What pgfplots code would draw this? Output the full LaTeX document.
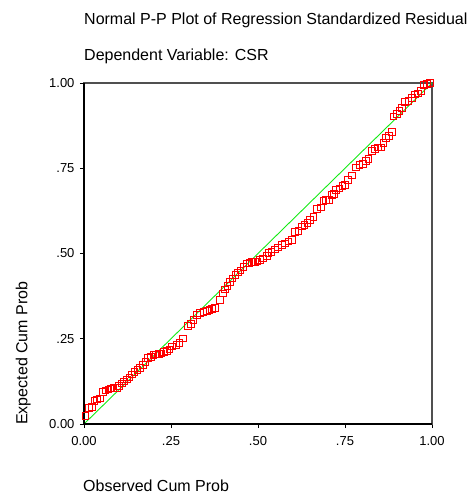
\documentclass[border=0pt]{standalone}
\usepackage{fontspec}
\setmainfont{Liberation Sans}
\usepackage{pgfplots}
\pgfplotsset{compat=1.18}

\definecolor{ppred}{RGB}{255,0,0}
\definecolor{ppgreen}{RGB}{20,235,20}
\definecolor{framegray}{RGB}{80,80,80}

\begin{document}
\begin{tikzpicture}[x=1pt,y=1pt,font=\fontsize{13}{15}\selectfont]
\useasboundingbox (-84,-72) rectangle (387,424);
\begin{axis}[
    at={(0,0)}, anchor=south west,
    scale only axis=true,
    width=348pt, height=341pt,
    xmin=0, xmax=1, ymin=0, ymax=1,
    xtick={0,0.25,0.5,0.75,1},
    ytick={0,0.25,0.5,0.75,1},
    xticklabels={0.00,.25,.50,.75,1.00},
    yticklabels={0.00,.25,.50,.75,1.00},
    xtick pos=lower, ytick pos=left,
    tick align=outside,
    major tick length=4pt,
    tick style={black, line width=0.8pt},
    axis line style={framegray, line width=1.2pt},
    ticklabel style={font=\fontsize{13}{15}\selectfont},
    xticklabel style={yshift=-5pt},
    yticklabel style={xshift=-2pt},
    clip=false,
]
\addplot[ppgreen, line width=0.9pt] coordinates {(0,0) (1,1)};

\addplot[only marks, mark=square, mark size=3.3pt,
         mark options={ppred, line width=0.8pt}] coordinates {
(0.004,0.024) (0.014,0.047) (0.022,0.051) (0.030,0.067) (0.037,0.072)
(0.045,0.075) (0.054,0.095) (0.062,0.099) (0.070,0.102) (0.078,0.104)
(0.085,0.105) (0.094,0.106) (0.101,0.112) (0.109,0.119) (0.115,0.125)
(0.123,0.131) (0.130,0.137) (0.138,0.146) (0.145,0.152) (0.153,0.158)
(0.161,0.165) (0.169,0.173) (0.176,0.182) (0.184,0.193) (0.192,0.197)
(0.199,0.202) (0.207,0.204) (0.215,0.205) (0.222,0.207) (0.230,0.211)
(0.238,0.215) (0.245,0.219) (0.253,0.227) (0.266,0.232) (0.274,0.238)
(0.285,0.251) (0.299,0.287) (0.307,0.293) (0.314,0.305) (0.324,0.320)
(0.333,0.325) (0.343,0.328) (0.353,0.331) (0.360,0.334) (0.368,0.337)
(0.376,0.341) (0.391,0.364) (0.399,0.383) (0.405,0.395) (0.412,0.405)
(0.420,0.417) (0.427,0.427) (0.435,0.437) (0.443,0.444) (0.450,0.450)
(0.458,0.460) (0.468,0.471) (0.475,0.473) (0.483,0.475) (0.491,0.476)
(0.498,0.477) (0.506,0.481) (0.514,0.486) (0.525,0.493) (0.530,0.501)
(0.539,0.505) (0.549,0.512) (0.558,0.518) (0.568,0.525) (0.578,0.530)
(0.587,0.535) (0.597,0.540) (0.606,0.564) (0.616,0.567) (0.626,0.579)
(0.633,0.584) (0.642,0.589) (0.649,0.598) (0.659,0.608) (0.670,0.630)
(0.680,0.635) (0.688,0.655) (0.695,0.657) (0.704,0.657) (0.712,0.672)
(0.718,0.674) (0.724,0.686) (0.734,0.691) (0.743,0.698) (0.750,0.702)
(0.759,0.716) (0.769,0.729) (0.782,0.753) (0.791,0.759) (0.801,0.762)
(0.810,0.772) (0.817,0.778) (0.827,0.801) (0.836,0.807) (0.844,0.811)
(0.853,0.811) (0.860,0.824) (0.868,0.839) (0.877,0.844) (0.884,0.856)
(0.889,0.902) (0.899,0.909) (0.906,0.919) (0.913,0.927) (0.922,0.944)
(0.932,0.948) (0.942,0.956) (0.951,0.966) (0.959,0.970) (0.968,0.976)
(0.977,0.995) (0.986,0.997) (0.994,1.000)
};

% left and bottom frame lines are black, top and right gray
\draw[black, line width=1.2pt] (axis cs:0,1) -- (axis cs:0,0) -- (axis cs:1,0);
\end{axis}

\begin{scope}[every node/.style={inner sep=0pt, font=\fontsize{16}{19}\selectfont}]
\node[anchor=base west] at (0,399) {Normal P-P Plot of Regression Standardized Residual};
\node[anchor=base west] at (0,363) {Dependent Variable: CSR};
\node[anchor=base west] at (-1,-67.5) {Observed Cum Prob};
\node[anchor=base west, rotate=90] at (-56.7,-1) {Expected Cum Prob};
\end{scope}
\end{tikzpicture}
\end{document}
